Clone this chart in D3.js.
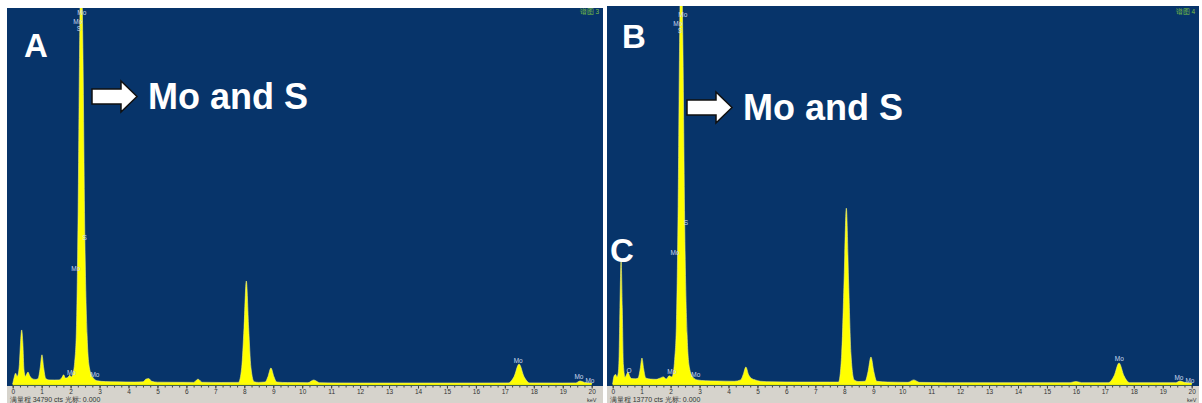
<!DOCTYPE html>
<meta charset="utf-8">
<script src="https://d3js.org/d3.v7.min.js"></script>
<style>
  body { margin: 0; background: #fff; }
  text { font-family: "Liberation Sans", Arial, sans-serif; }
</style>
<body>
<div id="chart"></div>
<script>
// spectrum A: [keV, counts], full scale 34790 cts
var specA = [
  [0,0],[0.05,600],[0.1,1000],[0.15,700],[0.19,900],
  [0.23,1800],[0.27,3800],[0.31,5000],[0.35,3800],[0.39,1300],
  [0.44,700],[0.48,900],[0.53,1100],[0.58,800],[0.63,600],[0.7,450],[0.8,420],
  [0.88,500],[0.95,1500],[1.01,2700],[1.07,1500],[1.14,500],
  [1.25,380],[1.45,370],[1.6,380],[1.7,600],[1.76,850],[1.82,550],[1.9,600],[1.97,800],[2.03,650],[2.08,1000],
  [2.14,2000],[2.2,5000],[2.26,16000],[2.31,31000],[2.36,40000],[2.42,32000],[2.49,14000],[2.57,4500],[2.65,1500],[2.77,600],[2.92,300],
  [3.2,220],[3.6,200],[4.2,180],[4.5,200],[4.6,450],[4.7,500],[4.8,250],[5.0,170],[5.5,160],[6.25,150],[6.4,450],[6.55,160],[7.2,140],
  [7.8,150],[7.91,1500],[7.99,5200],[8.07,9530],[8.15,5200],[8.23,1500],[8.34,200],
  [8.5,150],[8.72,180],[8.82,700],[8.92,1480],[9.02,700],[9.12,180],[9.5,130],[10.2,120],[10.4,370],[10.6,120],
  [11.2,100],[12,90],[14,90],[16,90],[17.12,100],[17.32,700],[17.49,1850],[17.66,700],[17.86,100],
  [19,90],[19.45,100],[19.6,280],[19.75,150],[20,90]
];
// spectrum B: [keV, counts], full scale 13770 cts
var specB = [
  [0,0],[0.05,300],[0.1,350],[0.15,250],[0.19,400],
  [0.22,1000],[0.25,2800],[0.29,4540],[0.33,2800],[0.37,700],
  [0.43,250],[0.48,350],[0.53,440],[0.58,300],[0.65,200],[0.8,190],
  [0.88,220],[0.95,550],[1.01,950],[1.07,550],[1.14,220],[1.3,180],[1.5,170],[1.6,200],[1.75,260],[1.85,180],[1.95,300],[2.04,260],[2.1,450],
  [2.14,900],[2.2,2200],[2.26,6500],[2.31,12500],[2.36,16000],[2.42,12800],[2.49,5600],[2.57,1800],[2.65,600],[2.77,250],[2.92,150],
  [3.2,120],[3.6,110],[4.2,100],[4.42,150],[4.51,350],[4.6,620],[4.69,350],[4.8,200],[4.92,150],[5.1,100],[5.5,80],[6.4,70],[7.5,70],
  [7.8,70],[7.91,1100],[7.99,3700],[8.07,6440],[8.15,3700],[8.23,1100],[8.34,150],
  [8.5,90],[8.72,100],[8.82,450],[8.92,990],[9.02,450],[9.12,100],[9.5,70],[10.2,60],[10.4,150],[10.6,60],
  [11.5,50],[13,50],[15.8,50],[16.0,90],[16.2,50],[17.12,50],[17.32,300],[17.49,770],[17.66,300],[17.86,50],
  [19.45,50],[19.6,110],[19.75,60],[20,40]
];
// peak labels: [text, keV, counts]
var labelsA = [
  ["Mo",2.39,34330],["Mo",2.25,33500],["S",2.29,32850],["S",2.49,13600],["Mo",2.18,10730],
  ["Mo",2.03,1110],["Mo",2.84,925],["Mo",17.46,2220],["Mo",19.56,740],["Mo",19.94,370]
];
var labelsB = [
  ["Mo",2.42,13550],["Mo",2.25,13220],["S",2.32,12960],["S",2.53,5900],["Mo",2.15,4830],
  ["O",0.56,510],["Mo",2.04,440],["Mo",2.87,365],["Mo",17.5,950],["Mo",19.56,220],["Mo",19.94,146]
];
var fullScale = [34790, 13770];
var spectrumName = ["谱图 3", "谱图 4"];
var panelLetter = ["A", "B"];
var xTicks = d3.range(0, 21);

var W = 1202, H = 403;
var svg = d3.select("#chart").append("svg").attr("width", W).attr("height", H);

var panels = [
  {dx: 0, left: 7, right: 603, top: 8, spec: specA, labels: labelsA},
  {dx: 600, left: 607, right: 1199, top: 6, spec: specB, labels: labelsB}
];
var base = 384, plotTop = 8;

panels.forEach(function(p, i) {
  var g = svg.append("g");
  var x = d3.scaleLinear().domain([0, 20]).range([12.7 + p.dx, 591.7 + p.dx]);
  var y = d3.scaleLinear().domain([0, fullScale[i]]).range([base, plotTop]);

  // blue plot background and grey axis strip
  g.append("rect").attr("x", p.left).attr("y", p.top).attr("width", p.right - p.left).attr("height", 386 - p.top)
    .attr("fill", "#07346a");
  g.append("rect").attr("x", p.left).attr("y", 386).attr("width", p.right - p.left).attr("height", H - 386)
    .attr("fill", "#d6d3cc");

  svg.append("clipPath").attr("id", "clip" + i).append("rect")
    .attr("x", p.left).attr("y", p.top).attr("width", p.right - p.left).attr("height", base - p.top + 1);

  var area = d3.area()
    .x(function(d) { return x(d[0]); })
    .y0(base)
    .y1(function(d) { return y(d[1]); })
    .curve(d3.curveMonotoneX);

  g.append("path").datum(p.spec)
    .attr("clip-path", "url(#clip" + i + ")")
    .attr("d", area)
    .attr("fill", "#ffff00")
    .attr("stroke", "#f4f47a").attr("stroke-width", 0.6);

  // baseline
  g.append("line").attr("x1", x(0)).attr("x2", x(20)).attr("y1", base + 0.5).attr("y2", base + 0.5)
    .attr("stroke", "#f0f000").attr("stroke-width", 1.5);

  // peak labels
  g.selectAll(".pl").data(p.labels).enter().append("text")
    .attr("x", function(d) { return x(d[1]); })
    .attr("y", function(d) { return y(d[2]) + 2.5; })
    .attr("text-anchor", "middle")
    .attr("font-size", 6.5)
    .attr("fill", "#c9d8ee")
    .text(function(d) { return d[0]; });

  // x axis
  var ax = g.append("g").attr("transform", "translate(0,386)")
    .call(d3.axisBottom(x).tickValues(xTicks).tickSize(2.5).tickPadding(1).tickFormat(d3.format("d")));
  ax.select(".domain").remove();
  ax.selectAll("line").attr("stroke", "#333");
  ax.selectAll("text").attr("font-size", 6.5).attr("fill", "#333").attr("dy", "0.62em");
  var mx = g.append("g").attr("transform", "translate(0,386)")
    .call(d3.axisBottom(x).tickValues(d3.range(0, 20.01, 0.25)).tickSize(1.5).tickFormat(""));
  mx.select(".domain").remove();
  mx.selectAll("line").attr("stroke", "#444");

  g.append("text").attr("x", x(20)).attr("y", 402).attr("text-anchor", "middle")
    .attr("font-size", 5.5).attr("fill", "#333").text("keV");
  g.append("text").attr("x", x(0) - 3).attr("y", 401.5)
    .attr("font-size", 7).attr("fill", "#333")
    .text("满量程 " + fullScale[i] + " cts 光标: 0.000");

  g.append("text").attr("x", p.right - 4).attr("y", 14).attr("text-anchor", "end")
    .attr("font-size", 6.5).attr("fill", "#7cc243").text(spectrumName[i]);

  // panel letter
  g.append("text").attr("x", i === 0 ? 24 : 622).attr("y", i === 0 ? 57 : 48)
    .attr("font-family", "Open Sans").attr("font-weight", "bold").attr("font-size", 33)
    .attr("fill", "#fff").text(panelLetter[i]);

  // arrow and annotation
  var ox = i === 0 ? 92 : 687, oy = i === 0 ? 81 : 92;
  g.append("path")
    .attr("d", "M0,8 H29 V0 L45,15.5 L29,31 V23 H0 Z")
    .attr("transform", "translate(" + ox + "," + oy + ")")
    .attr("fill", "#fff").attr("stroke", "#111").attr("stroke-width", 1.5);
  g.append("text").attr("x", ox + 56).attr("y", oy + 28)
    .attr("font-family", "Open Sans").attr("font-weight", "bold").attr("font-size", 36)
    .attr("fill", "#fff").text("Mo and S");

  if (i === 1) {
    g.append("text").attr("x", 610).attr("y", 262)
      .attr("font-family", "Open Sans").attr("font-weight", "bold").attr("font-size", 33)
      .attr("fill", "#fff").text("C");
  }
});
</script>
</body>
